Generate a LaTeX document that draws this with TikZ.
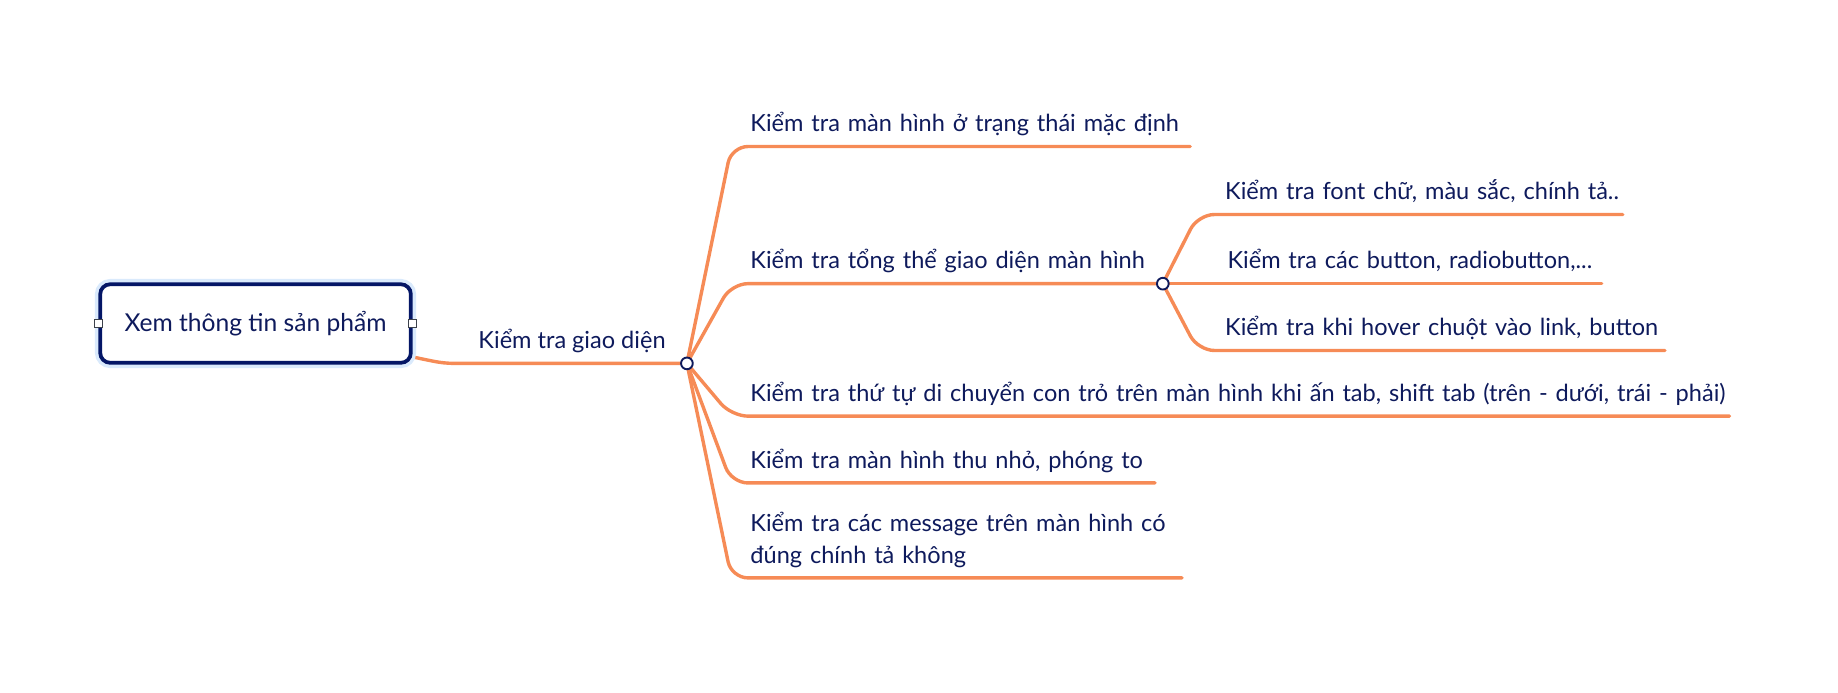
\documentclass[tikz,border=0pt]{standalone}
\usepackage{fontspec}
\setmainfont{Lato}
\definecolor{brorange}{RGB}{246,139,86}
\definecolor{navytext}{RGB}{14,26,92}
\definecolor{navybox}{RGB}{4,22,102}
\definecolor{halo}{RGB}{218,234,252}
\definecolor{handlegray}{RGB}{60,65,75}
\pgfdeclarelayer{bg}
\pgfsetlayers{bg,main}
\begin{document}
\begin{tikzpicture}[x=1pt,y=-1pt,
  branch/.style={draw=brorange, line width=2.9pt, rounded corners=14pt, line cap=round},
  rootlink/.style={draw=brorange, line width=2.9pt, line cap=round},
  topic/.style={anchor=south west, text=navytext, font=\fontsize{20.1}{27}\selectfont,
    inner xsep=8pt, inner ysep=12.5pt, text depth=0pt, align=left},
  dotnode/.style={circle, draw=navytext, fill=white, line width=1.6pt, minimum size=10pt, inner sep=0pt},
  rootbox/.style={rectangle, rounded corners=8.5pt, draw=navybox, line width=3.2pt, fill=white,
    preaction={draw=halo, line width=9pt}, minimum width=265pt, minimum height=67pt,
    text=navytext, font=\fontsize{21}{24}\selectfont},
  handle/.style={rectangle, draw=handlegray, fill=white, line width=1.1pt, minimum size=7pt, inner sep=0pt}
]
\useasboundingbox (0,0) rectangle (1568,590.4);

% root
\node[rootbox] (root) at (218,276) {Xem thông tin sản phẩm};
\node[handle] (hl) at (root.west) {};
\node[handle] (hr) at (root.east) {};

% first level label and dot
\node[topic] (gd) at (400,310) {Kiểm tra giao diện};
\node[dotnode] (c1) at (586,310) {};

% main branches
\node[topic, text width=367pt] (t1) at (632,125) {\mbox{Kiểm tra màn hình ở trạng thái mặc định}};
\node[topic, text width=344pt] (t2) at (632,242) {\mbox{Kiểm tra tổng thể giao diện màn hình}};
\node[topic, text width=827pt] (t3) at (632,355) {\mbox{Kiểm tra thứ tự di chuyển con trỏ trên màn hình khi ấn tab, shift tab (trên - dưới, trái - phải)}};
\node[topic, text width=337pt] (t4) at (632,412) {\mbox{Kiểm tra màn hình thu nhỏ, phóng to}};
\node[topic, text width=360pt] (t5) at (632,493) {\begin{tabular}[b]{@{}l@{}}Kiểm tra các message trên màn hình có\\đúng chính tả không\end{tabular}};

% second dot and sub-branches
\node[dotnode] (c2) at (992,242) {};
\node[topic, text width=331pt] (sa) at (1037,183) {\mbox{Kiểm tra font chữ, màu sắc, chính tả..}};
\node[topic, text width=311pt] (sb) at (1039,242) {\mbox{Kiểm tra các button, radiobutton,...}};
\node[topic, text width=367pt] (sc) at (1037,299) {\mbox{Kiểm tra khi hover chuột vào link, button}};

\begin{pgfonlayer}{bg}
  \draw[rootlink] (root.-12) .. controls +(28,6) and +(-22,0) .. (gd.south west) -- (c1.center);
  \draw[branch] (c1.center) -- ([xshift=-8pt]t1.south west) -- (t1.south east);
  \draw[branch] (c1.center) -- ([xshift=-8pt]t2.south west) -- (c2.center);
  \draw[branch] (c1.center) -- ([xshift=-8pt]t3.south west) -- (t3.south east);
  \draw[branch] (c1.center) -- ([xshift=-8pt]t4.south west) -- (t4.south east);
  \draw[branch] (c1.center) -- ([xshift=-8pt]t5.south west) -- (t5.south east);
  \draw[branch] (c2.center) -- ([xshift=-15pt]sa.south west) -- (sa.south east);
  \draw[branch] (c2.center) -- (sb.south east);
  \draw[branch] (c2.center) -- ([xshift=-15pt]sc.south west) -- (sc.south east);
\end{pgfonlayer}
\end{tikzpicture}
\end{document}
